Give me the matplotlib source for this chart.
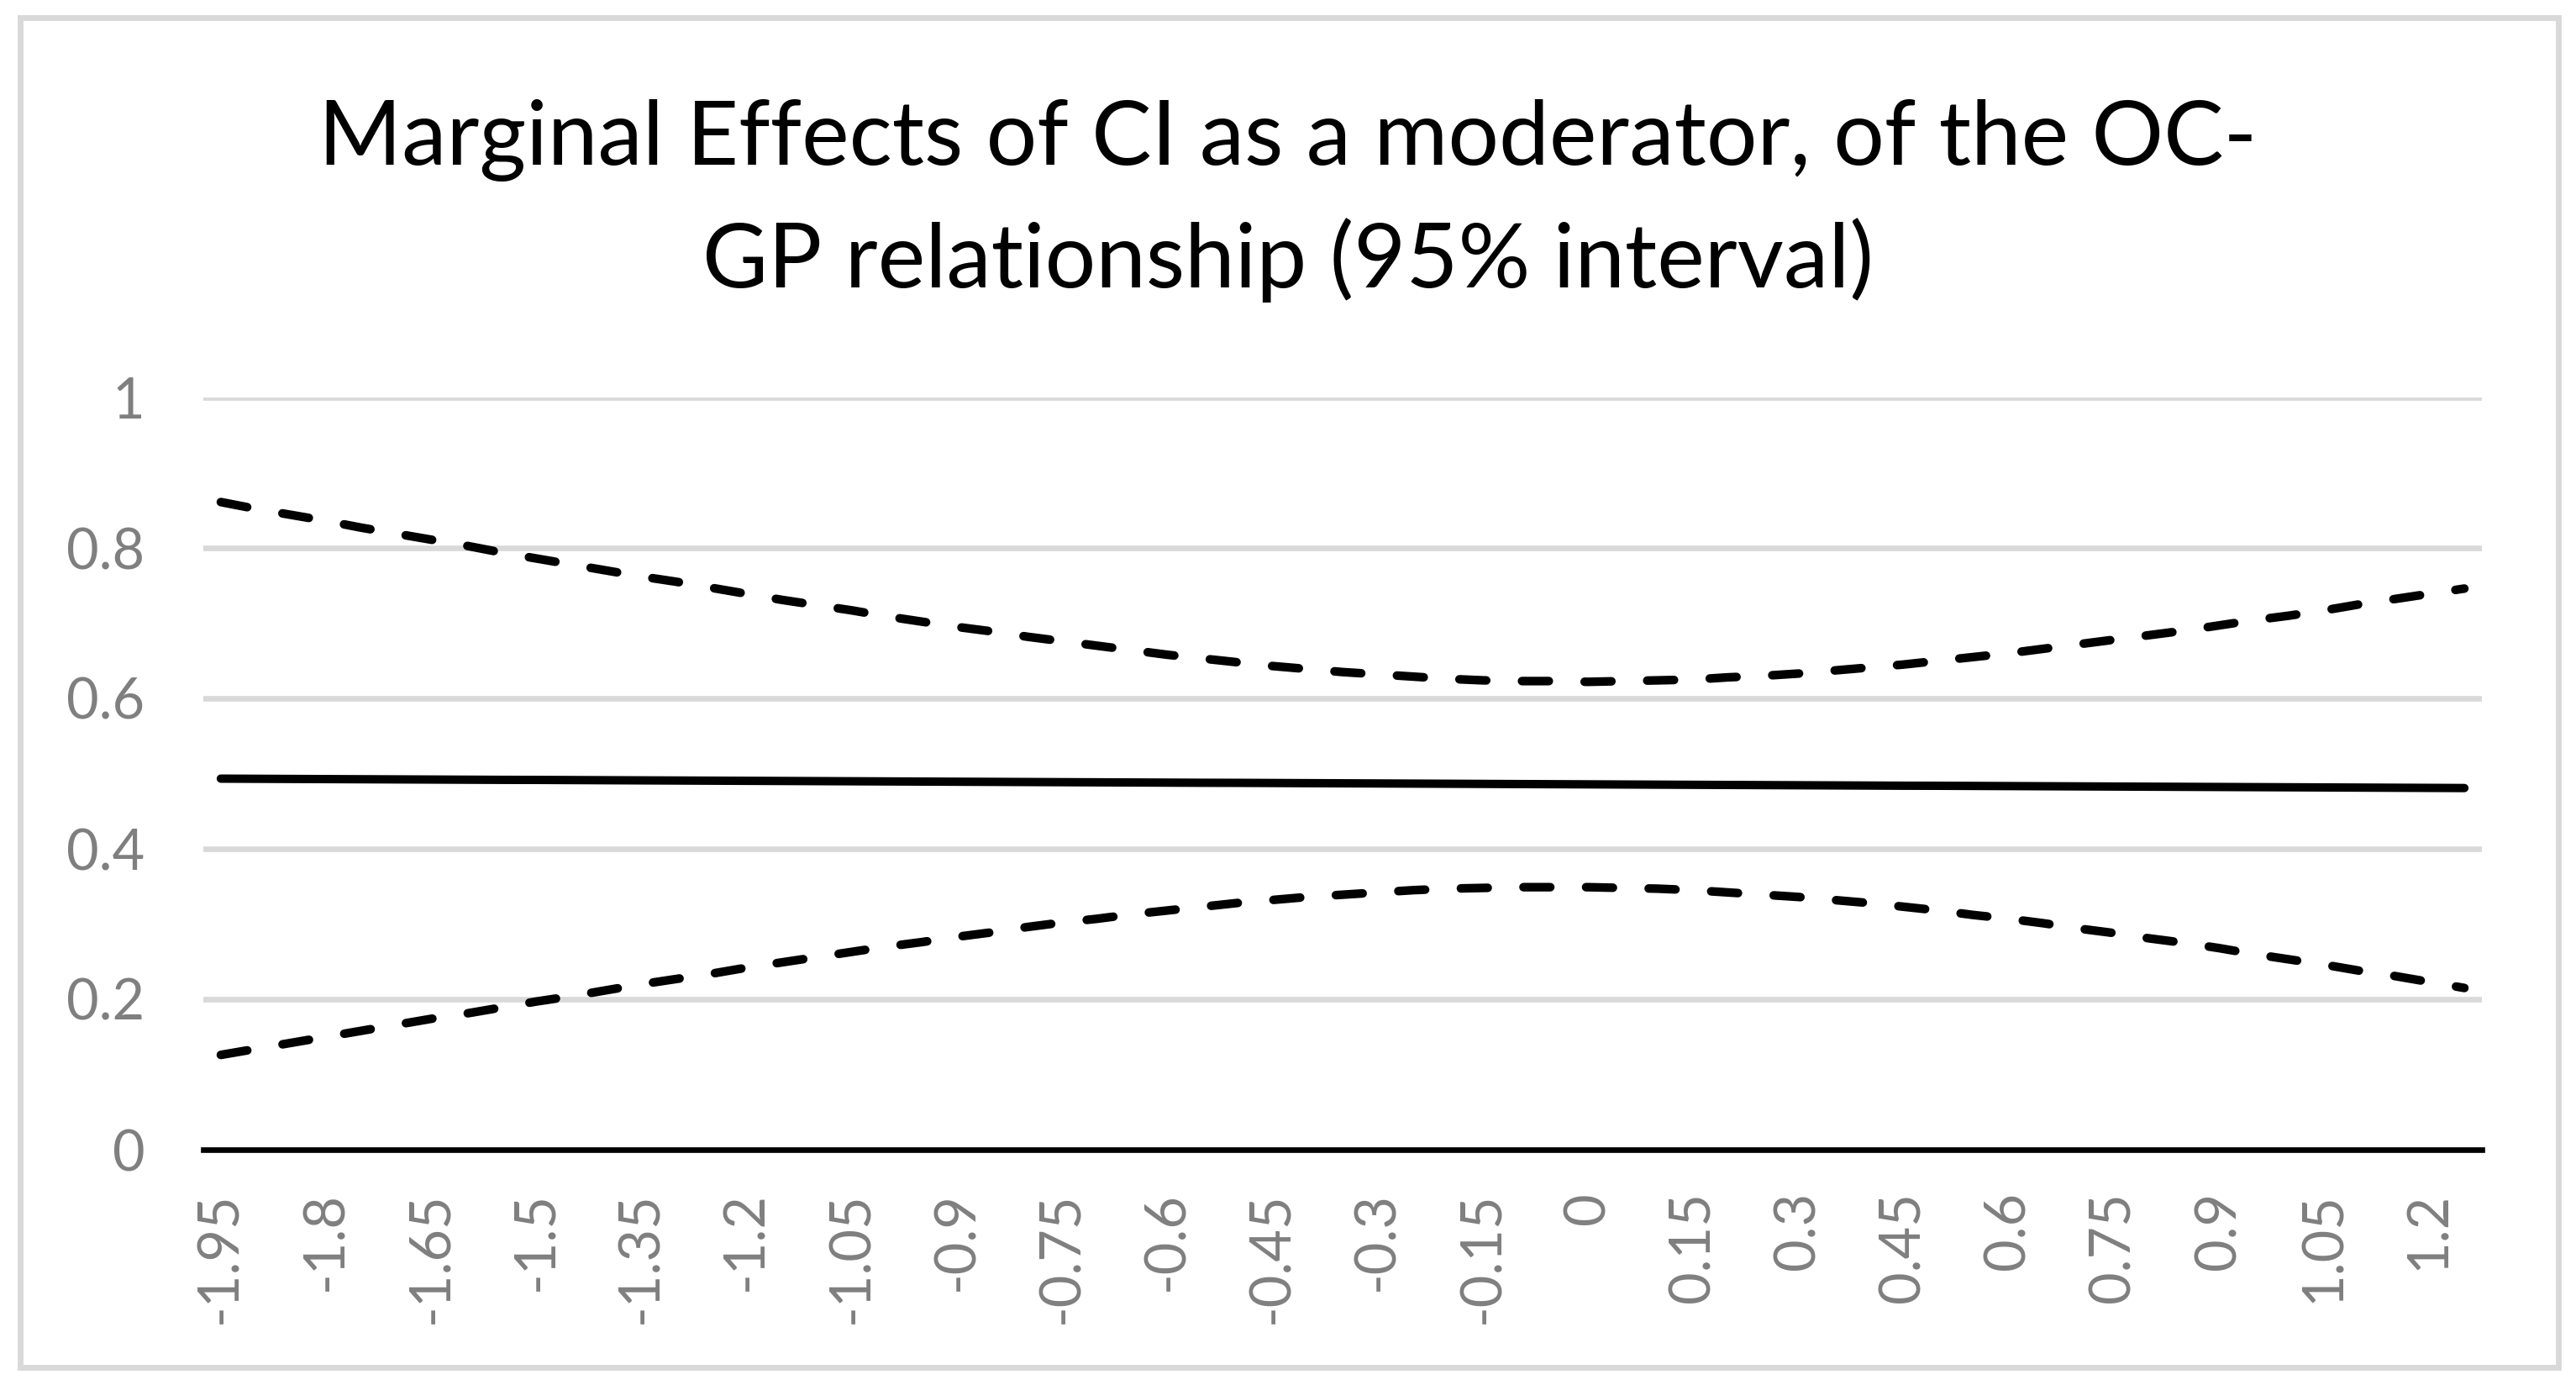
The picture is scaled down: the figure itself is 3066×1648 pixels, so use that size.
import matplotlib
matplotlib.use("Agg")
import matplotlib.pyplot as plt
from matplotlib.patches import Rectangle
import numpy as np

# CI (moderator) values, one category every 0.05
ci_values = [-1.95, -1.90, -1.85, -1.80, -1.75, -1.70, -1.65, -1.60, -1.55, -1.50,
             -1.45, -1.40, -1.35, -1.30, -1.25, -1.20, -1.15, -1.10, -1.05, -1.00,
             -0.95, -0.90, -0.85, -0.80, -0.75, -0.70, -0.65, -0.60, -0.55, -0.50,
             -0.45, -0.40, -0.35, -0.30, -0.25, -0.20, -0.15, -0.10, -0.05, 0.00,
             0.05, 0.10, 0.15, 0.20, 0.25, 0.30, 0.35, 0.40, 0.45, 0.50,
             0.55, 0.60, 0.65, 0.70, 0.75, 0.80, 0.85, 0.90, 0.95, 1.00,
             1.05, 1.10, 1.15, 1.20, 1.25]

# marginal effect of OC on GP
marginal_effect = [0.4933, 0.4931, 0.4929, 0.4927, 0.4925, 0.4923, 0.4921, 0.4919, 0.4917, 0.4916,
                   0.4914, 0.4912, 0.4910, 0.4908, 0.4906, 0.4904, 0.4902, 0.4900, 0.4898, 0.4896,
                   0.4894, 0.4892, 0.4890, 0.4888, 0.4886, 0.4884, 0.4882, 0.4880, 0.4878, 0.4877,
                   0.4875, 0.4873, 0.4871, 0.4869, 0.4867, 0.4865, 0.4863, 0.4861, 0.4859, 0.4857,
                   0.4855, 0.4853, 0.4851, 0.4849, 0.4847, 0.4845, 0.4843, 0.4841, 0.4839, 0.4838,
                   0.4836, 0.4834, 0.4832, 0.4830, 0.4828, 0.4826, 0.4824, 0.4822, 0.4820, 0.4818,
                   0.4816, 0.4814, 0.4812, 0.4810, 0.4808]

# upper bound of the 95% interval
upper_95 = [0.861, 0.852, 0.844, 0.836, 0.827, 0.819, 0.811, 0.803, 0.794, 0.786,
            0.778, 0.770, 0.762, 0.755, 0.747, 0.739, 0.731, 0.724, 0.717, 0.709,
            0.702, 0.695, 0.689, 0.682, 0.676, 0.670, 0.664, 0.658, 0.653, 0.648,
            0.643, 0.639, 0.635, 0.632, 0.629, 0.626, 0.624, 0.623, 0.623, 0.622,
            0.623, 0.624, 0.625, 0.628, 0.630, 0.633, 0.637, 0.641, 0.645, 0.650,
            0.655, 0.660, 0.666, 0.672, 0.678, 0.684, 0.690, 0.697, 0.704, 0.710,
            0.717, 0.725, 0.732, 0.739, 0.746]

# lower bound of the 95% interval
lower_95 = [0.126, 0.134, 0.142, 0.150, 0.158, 0.166, 0.174, 0.181, 0.189, 0.197,
            0.204, 0.212, 0.220, 0.227, 0.234, 0.242, 0.249, 0.256, 0.263, 0.270,
            0.276, 0.283, 0.289, 0.296, 0.302, 0.307, 0.313, 0.318, 0.323, 0.328,
            0.332, 0.336, 0.339, 0.342, 0.345, 0.347, 0.348, 0.349, 0.349, 0.349,
            0.348, 0.347, 0.345, 0.342, 0.339, 0.336, 0.332, 0.328, 0.323, 0.318,
            0.312, 0.307, 0.301, 0.294, 0.288, 0.281, 0.275, 0.268, 0.260, 0.253,
            0.246, 0.238, 0.231, 0.223, 0.215]

y_ticks = [0, 0.2, 0.4, 0.6, 0.8, 1]
y_tick_labels = ["0", "0.2", "0.4", "0.6", "0.8", "1"]

title_line1 = "Marginal Effects of CI as a moderator, of the OC-"
title_line2 = "GP relationship (95% interval)"

W, H, DPI = 3066, 1648, 200
FONT = ["Lato", "DejaVu Sans"]
GREY = "#7f7f7f"
GRID = "#d9d9d9"

fig = plt.figure(figsize=(W / DPI, H / DPI), dpi=DPI)
fig.patch.set_facecolor("white")

# chart-area border like Excel
fig.patches.append(Rectangle((24 / W, 21 / H), (3045 - 24) / W, (1627 - 21) / H,
                             transform=fig.transFigure, fill=False,
                             edgecolor=GRID, linewidth=2.5))

ax = fig.add_axes([242 / W, (H - 1368) / H, (2954 - 242) / W, (1368 - 473) / H])

pos = np.arange(len(ci_values))
ax.plot(pos, marginal_effect, color="black", lw=3.6, solid_capstyle="round", zorder=3)
ax.plot(pos, upper_95, color="black", lw=3.7, ls=(0, (3.1, 4.15)),
        dash_capstyle="round", zorder=3)
ax.plot(pos, lower_95, color="black", lw=3.7, ls=(0, (3.1, 4.15)),
        dash_capstyle="round", zorder=3)

ax.set_xlim(-0.5, len(ci_values) - 0.5)
ax.set_ylim(0, 1)

ax.set_yticks(y_ticks)
ax.set_yticklabels(y_tick_labels, fontfamily=FONT, fontsize=24, color=GREY)
ax.set_xticks(pos[::3])
ax.set_xticklabels([f"{v:g}" for v in ci_values[::3]], rotation=90,
                   fontfamily=FONT, fontsize=24, color=GREY)
ax.tick_params(axis="y", length=0, pad=25)
ax.tick_params(axis="x", length=0, pad=18)

ax.yaxis.grid(True, color=GRID, lw=2.4)
ax.set_axisbelow(True)
for side in ["left", "right", "top"]:
    ax.spines[side].set_visible(False)
ax.spines["bottom"].set_color("black")
ax.spines["bottom"].set_linewidth(2.4)

fig.text(0.5, 1 - 196 / H, title_line1, ha="center", va="baseline",
         fontfamily=FONT, fontsize=38.5, color="black")
fig.text(0.5, 1 - 342 / H, title_line2, ha="center", va="baseline",
         fontfamily=FONT, fontsize=38.5, color="black")

fig.savefig("out.png", dpi=DPI)
